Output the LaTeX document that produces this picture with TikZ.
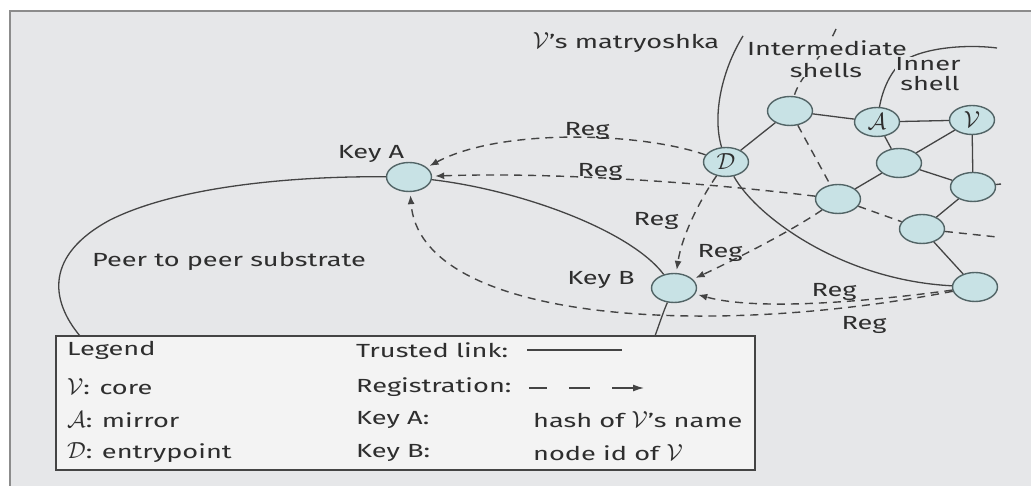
\documentclass[tikz,border=0pt]{standalone}
\usepackage{fontspec}
\setmainfont[FakeStretch=1.43]{Fira Sans}
\usetikzlibrary{shapes.geometric,arrows.meta}
\definecolor{bg}{HTML}{E6E7E9}
\definecolor{nodefill}{HTML}{C8E2E5}
\definecolor{nodeline}{HTML}{526466}
\definecolor{ln}{HTML}{444444}
\definecolor{txt}{HTML}{2E2E2E}
\definecolor{legfill}{HTML}{F3F3F3}
\definecolor{framec}{HTML}{8C8C8C}
\newcommand\calV{\scalebox{1.35}{$\mathcal{V}$}}
\newcommand\calA{\scalebox{1.35}{$\mathcal{A}$}}
\newcommand\calD{\scalebox{1.35}{$\mathcal{D}$}}
\begin{document}
\begin{tikzpicture}[x=1pt,y=-1pt,
  nd/.style={ellipse,draw=nodeline,fill=nodefill,line width=1.4pt,minimum width=45pt,minimum height=29pt,inner sep=0pt,text=txt,font=\fontsize{16}{16}\selectfont},
  lbl/.style={font=\fontsize{19}{19}\selectfont,text=txt,inner sep=0pt},
  link/.style={draw=ln,line width=1.3pt},
  reg/.style={draw=ln,line width=1.4pt,dash pattern=on 8pt off 6pt},
  regarrow/.style={reg,-{Latex[length=9pt,width=7pt]},shorten >=3pt},
]
\fill[white] (0,0) rectangle (1031,486);
\useasboundingbox (0,0) rectangle (1031,486);
\fill[bg] (10,11) rectangle (1031,486);
\draw[framec,line width=2.5pt] (10,486) -- (10,11) -- (1031,11);

% nodes
\node[nd] (KA) at (409,177) {};
\node[nd] (KB) at (674,288) {};
\node[nd] (D) at (726,162) {\calD};
\node[nd] (N1) at (790,111) {};
\node[nd] (A) at (877,122) {\calA};
\node[nd] (V) at (972,120) {\calV};
\node[nd] (N2) at (899,163) {};
\node[nd] (N3) at (973,187) {};
\node[nd] (N4) at (838,199) {};
\node[nd] (N5) at (922,229) {};
\node[nd] (N6) at (975,287) {};

% free ends
\coordinate (sL) at (80,336);
\coordinate (sR) at (655,336);
\coordinate (m0) at (743,36);
\coordinate (i0) at (836,29);
\coordinate (i3) at (997,48);
\coordinate (e5) at (997,237);
\coordinate (e3) at (1001,184);

% peer to peer substrate
\draw[link] (sL) .. controls (50,300) and (45,255) .. (110,220)
  .. controls (180,185) and (300,176) .. (KA);
\draw[link] (KA) .. controls (520,190) and (630,230) .. (KB);
\draw[link] (KB) .. controls (664,310) and (660,322) .. (sR);

% matryoshka
\draw[link] (m0) .. controls (722,70) and (712,115) .. (D);
\draw[link] (D) .. controls (755,215) and (840,280) .. (N6);

% intermediate shell pointer
\draw[reg] (i0) .. controls (825,55) and (800,75) .. (N1);
% inner shell
\draw[link] (A) .. controls (882,92) and (890,70) .. (905,60)
  .. controls (925,48) and (965,44) .. (i3);

% trusted links
\draw[link] (D) -- (N1);
\draw[link] (N1) -- (A);
\draw[link] (A) -- (V);
\draw[link] (A) -- (N2);
\draw[link] (V) -- (N2);
\draw[link] (V) -- (N3);
\draw[link] (N2) -- (N3);
\draw[link] (N2) -- (N4);
\draw[link] (N3) -- (N5);
\draw[link] (N5) -- (N6);

% dashed inner
\draw[reg] (N1) -- (N4);
\draw[reg] (N4) -- (N5);
\draw[reg] (N5) -- (e5);
\draw[reg] (N3) -- (e3);

% registrations
\draw[regarrow] (D) .. controls (640,132) and (500,128) .. (KA);
\draw[regarrow] (N4) .. controls (700,182) and (550,172) .. (KA);
\draw[regarrow] (D) .. controls (700,200) and (682,235) .. (KB);
\draw[regarrow] (N4) .. controls (790,232) and (730,262) .. (KB);
\draw[regarrow] (N6) .. controls (880,300) and (760,312) .. (KB);
\draw[regarrow] (N6) .. controls (700,340) and (420,320) .. (KA);

% labels
\node[lbl] (lKA) at (371,154) {Key A};
\node[lbl] (lKB) at (601,280) {Key B};
\node[lbl] (lsub) at (229,261) {Peer to peer substrate};
\node[lbl] (r1) at (587,131) {Reg};
\node[lbl] (r2) at (600,172) {Reg};
\node[lbl] (r3) at (656,221) {Reg};
\node[lbl] (r4) at (720,253) {Reg};
\node[lbl] (r5) at (834,292) {Reg};
\node[lbl] (r6) at (864,325) {Reg};
\node[lbl] (lm) at (626,43) {\calV's matryoshka};
\node[lbl,fill=bg] (li1) at (827,48) {Intermediate};
\node[lbl,fill=bg] (li2) at (826,70) {shells};
\node[lbl,fill=bg] (ln1) at (928,64) {Inner};
\node[lbl] (ln2) at (930,83) {shell};

% legend
\draw[fill=legfill,draw=ln,line width=1.3pt] (56,336) rectangle (755,470);
\node[lbl,anchor=west] (g1) at (67,350) {Legend};
\node[lbl,anchor=west] (g2) at (67,387) {\calV: core};
\node[lbl,anchor=west] (g3) at (67,420) {\calA: mirror};
\node[lbl,anchor=west] (g4) at (67,453) {\calD: entrypoint};
\node[lbl,anchor=west] (h1) at (356,350) {Trusted link:};
\node[lbl,anchor=west] (h2) at (356,387) {Registration:};
\node[lbl,anchor=west] (h3) at (356,420) {Key A:};
\node[lbl,anchor=west] (h4) at (356,453) {Key B:};
\node[lbl,anchor=west] (k3) at (533,420) {hash of \calV's name};
\node[lbl,anchor=west] (k4) at (533,453) {node id of \calV};
\draw[ln,line width=1.2pt] (527,350) -- (622,350);
\draw[ln,line width=1.3pt] (529,388) -- (547,388);
\draw[ln,line width=1.3pt] (569,388) -- (590,388);
\draw[ln,line width=1.3pt,-{Latex[length=11pt,width=7pt]}] (612,388) -- (644,388);
\end{tikzpicture}
\end{document}
